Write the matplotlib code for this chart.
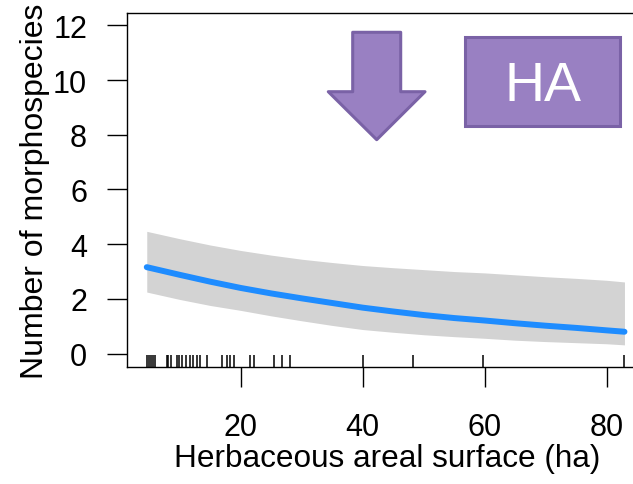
import matplotlib
matplotlib.use("Agg")
from matplotlib import pyplot as plt
from matplotlib.patches import Polygon, Rectangle

plt.rcParams['font.family'] = ['Liberation Sans', 'DejaVu Sans']

# fitted number of morphospecies against herbaceous area, with confidence band
area = [4.6, 10, 15, 20, 25, 30, 35, 40, 45, 50, 55, 60, 65, 70, 75, 80, 82.9]
fit = [3.16, 2.88, 2.63, 2.40, 2.20, 2.02, 1.85, 1.68, 1.54, 1.41, 1.30, 1.21, 1.11, 1.02, 0.94, 0.85, 0.80]
upper = [4.47, 4.20, 3.97, 3.77, 3.60, 3.45, 3.33, 3.22, 3.14, 3.07, 3.00, 2.95, 2.88, 2.81, 2.75, 2.68, 2.62]
lower = [2.25, 1.98, 1.76, 1.58, 1.38, 1.20, 1.03, 0.88, 0.78, 0.69, 0.62, 0.56, 0.49, 0.44, 0.40, 0.36, 0.32]

# observed site areas (rug)
sites = [4.6, 4.9, 5.3, 5.7, 6.0, 7.9, 8.1, 8.5, 9.5, 9.9, 10.3, 11.1, 11.7, 12.2, 12.8, 13.4,
         14.5, 17.0, 17.7, 18.2, 18.9, 21.6, 22.2, 25.5, 26.7, 28.1, 40.0, 48.2, 59.7, 82.9]

x_ticks = [20, 40, 60, 80]
y_ticks = [0, 2, 4, 6, 8, 10, 12]

W, H = 633, 485
fig = plt.figure(figsize=(W / 100, H / 100), dpi=100)
left, right, top, bottom = 126.7, 633, 14, 368.3
ax = fig.add_axes([left / W, 1 - bottom / H, (right - left) / W, (bottom - top) / H])

ax.fill_between(area, lower, upper, color='#d3d3d3', linewidth=0)
ax.plot(area, fit, color='#1e8cff', linewidth=4.3, solid_capstyle='round')
ax.vlines(sites, 0, 0.034, transform=ax.get_xaxis_transform(), color='black', linewidth=1.1)

ax.set_xlim(1.31, 84.3)
ax.set_ylim(-0.5, 12.45)
ax.set_xticks(x_ticks)
ax.set_yticks(y_ticks)
ax.spines['right'].set_visible(False)
for s in ['left', 'bottom', 'top']:
    ax.spines[s].set_linewidth(1.0)
ax.tick_params(axis='both', direction='out', length=14.5, width=1.0, labelsize=22)
ax.tick_params(axis='x', pad=17.5)
ax.tick_params(axis='y', pad=14)

ax.set_xlabel('Herbaceous areal surface (ha)', fontsize=22.7)
ax.xaxis.set_label_coords(0.515, -0.215)
ax.set_ylabel('Number of morphospecies', fontsize=23)
ax.yaxis.set_label_coords(-0.151, 0.5)


def px(x, y):
    return (x / W, 1 - y / H)


# decreasing-effect arrow and variable tag
arrow = [(352.7, 33.3), (400.7, 33.3), (400.7, 92.7), (425, 92.7), (376.7, 140.7),
         (328.3, 92.7), (352.7, 92.7)]
fig.patches.append(Polygon([px(*p) for p in arrow], closed=True, transform=fig.transFigure,
                           facecolor='#9980c2', edgecolor='#7a62a6', linewidth=2.2,
                           joinstyle='round'))
x0, y1 = px(465, 126.7)
fig.patches.append(Rectangle((x0, y1), 155 / W, 88.4 / H, transform=fig.transFigure,
                             facecolor='#9980c2', edgecolor='#7a62a6', linewidth=2.2))
fig.text(*px(543.3, 87), 'HA', color='white', fontsize=40, ha='center', va='center')

fig.savefig('out.png', dpi=100)
